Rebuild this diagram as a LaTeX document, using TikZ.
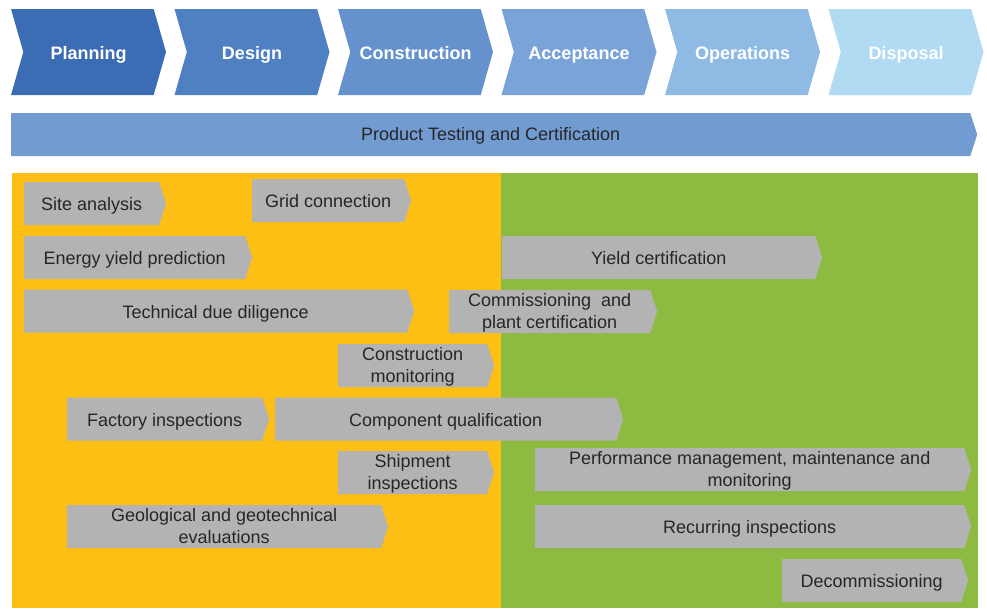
\documentclass[tikz,border=0pt]{standalone}
\usepackage{fontspec}
\setmainfont{Liberation Sans}
\usetikzlibrary{shapes.symbols,positioning}
\definecolor{ph1}{HTML}{3B6DB4}
\definecolor{ph2}{HTML}{4F80C2}
\definecolor{ph3}{HTML}{6592CD}
\definecolor{ph4}{HTML}{7AA4D8}
\definecolor{ph5}{HTML}{8EBAE4}
\definecolor{ph6}{HTML}{B0DBF3}
\definecolor{barblue}{HTML}{729BD1}
\definecolor{preorange}{HTML}{FDBF14}
\definecolor{postgreen}{HTML}{8DBB41}
\definecolor{tagfill}{HTML}{B3B3B3}
\definecolor{ink}{HTML}{262626}

\begin{document}
\begin{tikzpicture}[x=1pt,y=-1pt,
  phase/.style={signal,signal from=west,signal to=east,signal pointer angle=148,minimum width=155pt,minimum height=86pt,inner sep=0pt,text height=16pt,text depth=2pt,text=white,font=\fontsize{18}{22}\selectfont\bfseries},
  tag/.style={signal,signal to=east,signal pointer angle=144,fill=tagfill,minimum height=43pt,inner xsep=2pt,inner ysep=0pt,text height=16pt,text depth=2pt,text=ink,align=center,anchor=west,font=\fontsize{18}{22}\selectfont},
  tagtwo/.style={tag,text height=35pt}]
  \useasboundingbox (0,0) rectangle (987,608);
  % life cycle phases
  \foreach \name/\lbl/\col [count=\i] in {plan/Planning/ph1,design/Design/ph2,constr/Construction/ph3,accept/Acceptance/ph4,oper/Operations/ph5,disp/Disposal/ph6}
    \node[phase,fill=\col] (\name) at ({88.5+(\i-1)*163.5},52) {\lbl};
  \node[tag,fill=barblue,minimum width=966pt,text height=14pt] (ptc) at (11,134.5) {Product Testing and Certification};
  % background zones
  \fill[preorange] (12,173) rectangle (501,608);
  \fill[postgreen] (501,173) rectangle (978,608);
  % services
  \node[tag,minimum width=142pt] (site) at (24,203.5) {Site analysis};
  \node[tag,minimum width=159pt] (grid) at (252,200.5) {Grid connection};
  \node[tag,minimum width=228pt] (eyp) at (24,257.5) {Energy yield prediction};
  \node[tag,minimum width=320pt] (yield) at (502,257.5) {Yield certification};
  \node[tag,minimum width=390pt] (tdd) at (24,311) {Technical due diligence};
  \node[tagtwo,minimum width=208pt] (comm) at (449,311.5) {Commissioning~ and\\plant certification};
  \node[tagtwo,minimum width=156pt] (cmon) at (338,365.5) {Construction\\monitoring};
  \node[tag,minimum width=202pt] (fact) at (67,419) {Factory inspections};
  \node[tag,minimum width=348pt] (compq) at (275,419) {Component qualification};
  \node[tagtwo,minimum width=156pt] (ship) at (338,472.5) {Shipment\\inspections};
  \node[tagtwo,minimum width=436pt] (perf) at (535,469.5) {Performance management, maintenance and\\monitoring};
  \node[tagtwo,minimum width=321pt] (geo) at (67,526.5) {Geological and geotechnical\\evaluations};
  \node[tag,minimum width=436pt] (recur) at (535,526.5) {Recurring inspections};
  \node[tag,minimum width=186pt] (decom) at (782,580.5) {Decommissioning};
\end{tikzpicture}
\end{document}
